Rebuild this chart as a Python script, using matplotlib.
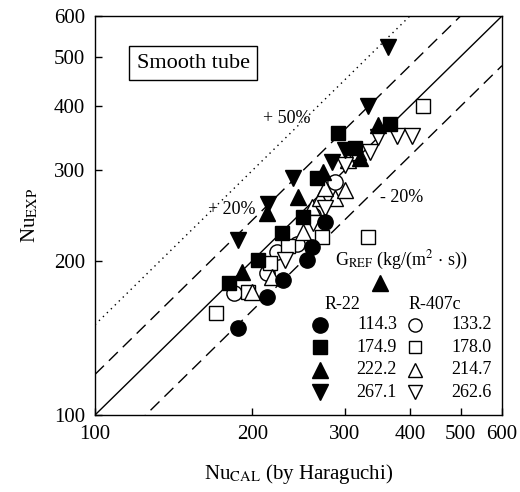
import numpy as np
import matplotlib
matplotlib.use("Agg")
import matplotlib.pyplot as plt
from matplotlib.ticker import FixedLocator, NullLocator, FixedFormatter

plt.rcParams['font.family'] = ['Liberation Serif', 'DejaVu Serif']
plt.rcParams['mathtext.fontset'] = 'stix'

# R-22 (filled markers), G_REF in kg/(m2 s)
r22_114_x = [188, 213, 229, 254, 260, 275]
r22_114_y = [148, 170, 183, 201, 213, 238]
r22_175_x = [180, 205, 228, 250, 266, 291, 366, 314]
r22_175_y = [181, 201, 226, 243, 290, 355, 369, 332]
r22_222_x = [191, 244, 273, 351, 213, 348, 321]
r22_222_y = [190, 266, 298, 181, 248, 368, 317]
r22_267_x = [363, 333, 284, 239, 214, 188, 301]
r22_267_y = [522, 400, 311, 290, 258, 219, 329]

# R-407c (open markers)
r407_133_x = [184, 213, 223, 243, 261, 288]
r407_133_y = [173, 189, 208, 216, 245, 285]
r407_178_x = [170, 196, 216, 234, 272, 333, 424]
r407_178_y = [158, 174, 198, 214, 222, 222, 400]
r407_215_x = [200, 218, 250, 260, 269, 288, 275, 301, 318, 304]
r407_215_y = [174, 186, 227, 254, 265, 265, 277, 275, 326, 314]
r407_263_x = [231, 261, 275, 348, 378, 404, 336, 301]
r407_263_y = [201, 237, 253, 348, 350, 350, 326, 307]

r22_labels = ["114.3", "174.9", "222.2", "267.1"]
r407_labels = ["133.2", "178.0", "214.7", "262.6"]
markers = ['o', 's', '^', 'v']
msizes = [11, 9.5, 11, 11]

ticks = [100, 200, 300, 400, 500, 600]

fig = plt.figure(figsize=(5.2, 4.92), dpi=100)
ax = fig.add_axes([0.1827, 0.1565, 0.7827, 0.811])

ax.set_xscale('log')
ax.set_yscale('log')
ax.set_xlim(100, 600)
ax.set_ylim(100, 600)

# reference lines
xl = np.array([100, 600])
ax.plot(xl, xl, color='black', lw=1.0)
ax.plot(xl, 1.2 * xl, color='black', lw=1.0, ls=(0, (9, 5)))
ax.plot(xl, 0.8 * xl, color='black', lw=1.0, ls=(0, (9, 5)))
ax.plot(xl, 1.5 * xl, color='black', lw=1.0, ls=(0, (1, 3)))

r22 = [(r22_114_x, r22_114_y), (r22_175_x, r22_175_y),
       (r22_222_x, r22_222_y), (r22_267_x, r22_267_y)]
r407 = [(r407_133_x, r407_133_y), (r407_178_x, r407_178_y),
        (r407_215_x, r407_215_y), (r407_263_x, r407_263_y)]

for (x, y), m, s in zip(r407, markers, msizes):
    ax.plot(x, y, ls='none', marker=m, ms=s, mfc='white', mec='black', mew=1.0)
for (x, y), m, s in zip(r22, markers, msizes):
    ax.plot(x, y, ls='none', marker=m, ms=s, mfc='black', mec='black', mew=1.0)

# ticks
for axis in (ax.xaxis, ax.yaxis):
    axis.set_major_locator(FixedLocator(ticks))
    axis.set_major_formatter(FixedFormatter([str(t) for t in ticks]))
    axis.set_minor_locator(NullLocator())
ax.tick_params(direction='in', length=5, width=1, labelsize=15, pad=7)
for sp in ax.spines.values():
    sp.set_linewidth(1.0)

ax.set_xlabel(r'Nu$_{\mathrm{CAL}}$ (by Haraguchi)', fontsize=15, labelpad=13)
ax.set_ylabel(r'Nu$_{\mathrm{EXP}}$', fontsize=15, labelpad=10)

# annotations
ax.text(0.241, 0.882, 'Smooth tube', transform=ax.transAxes, fontsize=16,
        ha='center', va='center',
        bbox=dict(boxstyle='square,pad=0.35', fc='white', ec='black', lw=1.0))
ax.text(0.472, 0.744, '+ 50%', transform=ax.transAxes, fontsize=13,
        ha='center', va='center')
ax.text(0.337, 0.514, '+ 20%', transform=ax.transAxes, fontsize=13,
        ha='center', va='center')
ax.text(0.754, 0.546, '- 20%', transform=ax.transAxes, fontsize=13,
        ha='center', va='center')

# hand-made legend
ax.text(0.590, 0.388, r'G$_{\mathrm{REF}}$ (kg/(m$^2$ $\cdot$ s))',
        transform=ax.transAxes, fontsize=13, ha='left', va='center')
ax.text(0.609, 0.278, 'R-22', transform=ax.transAxes, fontsize=13,
        ha='center', va='center')
ax.text(0.835, 0.278, 'R-407c', transform=ax.transAxes, fontsize=13,
        ha='center', va='center')
row_y = [0.2256, 0.1698, 0.1140, 0.0576]
for i, (m, s) in enumerate(zip(markers, msizes)):
    ax.plot([0.553], [row_y[i]], transform=ax.transAxes, ls='none', marker=m,
            ms=s, mfc='black', mec='black', clip_on=False)
    ax.text(0.742, row_y[i], r22_labels[i], transform=ax.transAxes,
            fontsize=13, ha='right', va='center')
    ax.plot([0.786], [row_y[i]], transform=ax.transAxes, ls='none', marker=m,
            ms=s - 1.5, mfc='white', mec='black', mew=1.0, clip_on=False)
    ax.text(0.975, row_y[i], r407_labels[i], transform=ax.transAxes,
            fontsize=13, ha='right', va='center')

fig.savefig('out.png', dpi=100)
